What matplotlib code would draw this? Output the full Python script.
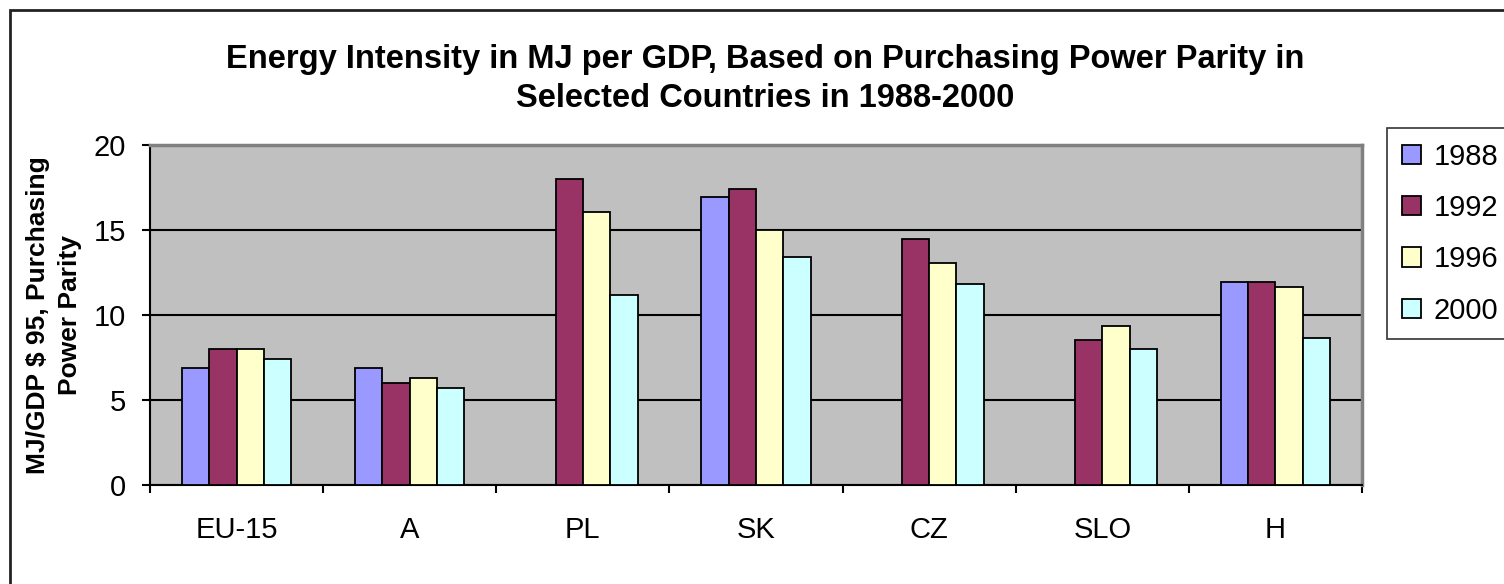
import matplotlib.pyplot as plt
import numpy as np
from matplotlib.patches import Rectangle

plt.rcParams['font.family'] = ['Liberation Sans', 'DejaVu Sans']

countries = ['EU-15', 'A', 'PL', 'SK', 'CZ', 'SLO', 'H']
years = ['1988', '1992', '1996', '2000']
v1988 = [6.9, 6.9, np.nan, 16.95, np.nan, np.nan, 11.95]
v1992 = [8.0, 6.0, 18.0, 17.4, 14.45, 8.55, 11.95]
v1996 = [8.0, 6.3, 16.05, 15.0, 13.05, 9.35, 11.65]
v2000 = [7.4, 5.7, 11.2, 13.4, 11.8, 8.0, 8.65]
yticks = [0, 5, 10, 15, 20]

colors = ['#9999FF', '#993366', '#FFFFCC', '#CCFFFF']
series = [v1988, v1992, v1996, v2000]

W, H = 1504, 584
fig = plt.figure(figsize=(W / 100, H / 100), dpi=100)
ax = fig.add_axes([150 / W, 1 - 485 / H, (1362 - 150) / W, (485 - 145) / H])
ax.set_facecolor('#C0C0C0')

x = np.arange(len(countries))
bw = 0.158
for i, (vals, c) in enumerate(zip(series, colors)):
    ax.bar(x + (i - 1.5) * bw, vals, bw, color=c, edgecolor='black',
           linewidth=1.3, label=years[i], zorder=3)

ax.set_xlim(-0.5, len(countries) - 0.5)
ax.set_ylim(0, 20)
ax.set_yticks(yticks)
ax.set_yticklabels([str(t) for t in yticks], fontsize=21)
ax.yaxis.grid(True, color='black', linewidth=1.5, zorder=1)
ax.set_axisbelow(True)

ax.set_xticks(x)
ax.set_xticklabels(countries, fontsize=21)
ax.tick_params(axis='x', which='major', length=0, pad=22)
ax.set_xticks(np.arange(-0.5, len(countries)), minor=True)
ax.tick_params(axis='x', which='minor', length=6, width=1.5, direction='out')
ax.tick_params(axis='y', length=5.5, width=1.5, direction='out', pad=12)

for s in ['left', 'bottom']:
    ax.spines[s].set_color('black')
    ax.spines[s].set_linewidth(1.5)
for s in ['top', 'right']:
    ax.spines[s].set_color('#808080')
    ax.spines[s].set_linewidth(2.5)

ax.set_ylabel('MJ/GDP $ 95, Purchasing\nPower Parity', fontsize=19,
              fontweight='bold', labelpad=8, linespacing=1.45)

fig.text(765 / W, 1 - 79 / H,
         'Energy Intensity in MJ per GDP, Based on Purchasing Power Parity in\n'
         'Selected Countries in 1988-2000',
         ha='center', va='center', fontsize=23.5, fontweight='bold',
         linespacing=1.35)

leg = fig.legend(loc='upper left', bbox_to_anchor=(1387 / W, 1 - 128 / H),
                 fontsize=21, frameon=True, fancybox=False, edgecolor='black',
                 handlelength=0.65, handleheight=0.65, handletextpad=0.45,
                 labelspacing=0.8, borderpad=0.5, borderaxespad=0)
leg.get_frame().set_linewidth(1.2)

fig.patches.append(Rectangle((10 / W, -0.05), 1.0, 1 - 10 / H + 0.05,
                             transform=fig.transFigure, fill=False,
                             edgecolor='#222222', linewidth=2))

fig.savefig('out.png', dpi=100)
